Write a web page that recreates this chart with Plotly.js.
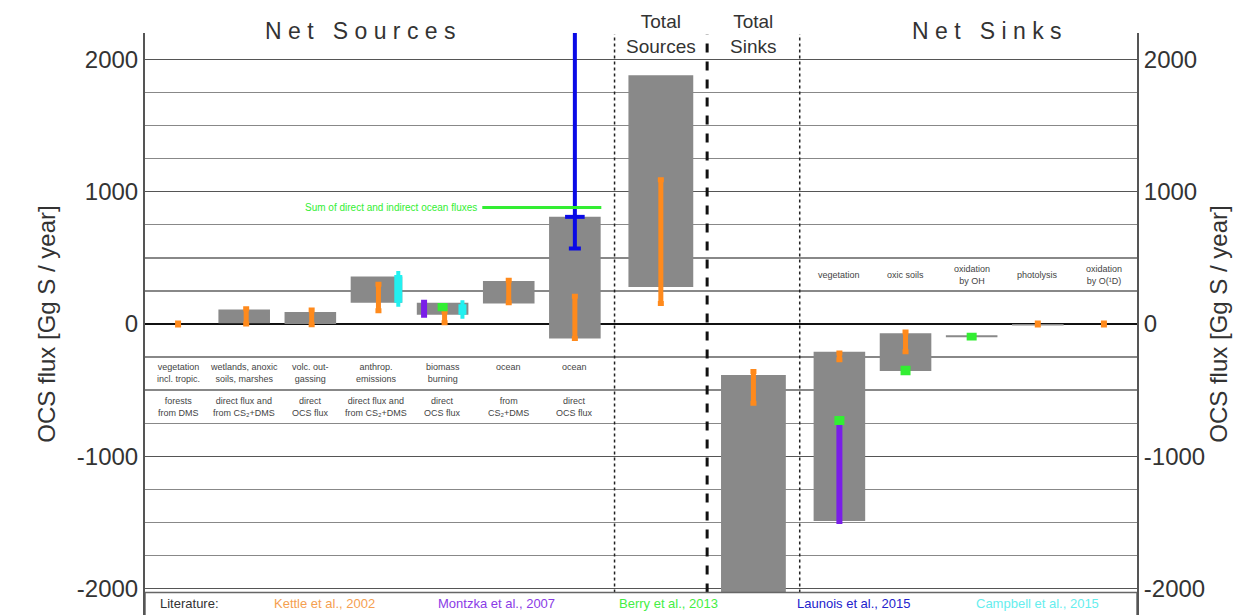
<!DOCTYPE html>
<html>
<head>
<meta charset="utf-8">
<script src="https://cdn.plot.ly/plotly-3.0.1.min.js"></script>
<style>html,body{margin:0;padding:0;background:#fff;}#chart{width:1242px;height:615px;}</style>
</head>
<body>
<div id="chart"></div>
<script>
// ---- data ----
const barPos   = [2, 3, 4, 5, 6, 7, 8.3, 9.7, 11, 12, 13, 14];
const barLow   = [5, 0, 160, 70, 155, -110, 280, -2300, -1490, -355, -100, -12];
const barHigh  = [110, 90, 360, 160, 325, 810, 1880, -385, -210, -70, -85, 0];

const kettlePos  = [1, 2.03, 3.02, 4.03, 5.03, 6.0, 7.0, 8.3, 9.7, 11, 12, 14, 15];
const kettleLow  = [-8, 0, -5, 100, 10, 160, -110, 155, -600, -270, -210, -8, -8];
const kettleHigh = [8, 115, 105, 300, 95, 330, 210, 1090, -360, -220, -60, 8, 8];

const montzkaPos  = [4.72, 11];
const montzkaLow  = [70, -1490];
const montzkaHigh = [160, -740];

const berryPos  = [5.0, 11, 12, 13];
const berryLow  = [115, -745, -368, -105];
const berryHigh = [140, -715, -335, -85];

const launoisPos  = [7];
const launoisLow  = [570];
const launoisHigh = [2400];
const launoisMid  = [810];

const campbellPos  = [4.33, 5.3];
const campbellLow  = [160, 70];
const campbellHigh = [370, 150];

const oceanSum = 880;
const oceanSumSpan = [5.6, 7.4];

const sourceLabels1 = ["vegetation<br>incl. tropic.", "wetlands, anoxic<br>soils, marshes", "volc. out-<br>gassing", "anthrop.<br>emissions", "biomass<br>burning", "ocean<br> ", "ocean<br> "];
const sourceLabels2 = ["forests<br>from DMS", "direct flux and<br>from CS₂+DMS", "direct<br>OCS flux", "direct flux and<br>from CS₂+DMS", "direct<br>OCS flux", "from<br>CS₂+DMS", "direct<br>OCS flux"];
const sinkLabels = ["vegetation", "oxic soils", "oxidation<br>by OH", "photolysis", "oxidation<br>by O(¹D)"];
const literature = ["Kettle et al., 2002", "Montzka et al., 2007", "Berry et al., 2013", "Launois et al., 2015", "Campbell et al., 2015"];
const litColors = ["#f5a050", "#8a3be6", "#44ee44", "#2222cc", "#66eeee"];

// ---- styles ----
const FONT = "Liberation Sans, Arial, sans-serif";
const ORANGE = "#ff8a1c", PURPLE = "#7a1ee8", GREEN = "#33ee33", BLUE = "#0a0ae6", CYAN = "#22f0f0", GRAY = "#898989";

function rangeTrace(pos, lo, hi, color, thick, cap) {
  return {
    type: "scatter", mode: "markers", x: pos, y: lo,
    marker: {size: 0.1, color: color},
    error_y: {type: "data", symmetric: false, array: hi.map((h, i) => h - lo[i]), arrayminus: lo.map(() => 0),
              color: color, thickness: thick, width: cap},
    hoverinfo: "skip", showlegend: false
  };
}

const traces = [];
traces.push({
  type: "bar", x: barPos, base: barLow, y: barHigh.map((h, i) => h - barLow[i]),
  width: barPos.map(p => (p === 8.3 || p === 9.7) ? 0.98 : 0.78),
  marker: {color: GRAY, line: {width: 0}}, showlegend: false, hoverinfo: "skip"
});
traces.push(rangeTrace(kettlePos, kettleLow, kettleHigh, ORANGE, 5, 3));
traces.push(rangeTrace(montzkaPos, montzkaLow, montzkaHigh, PURPLE, 6, 3));
traces.push(rangeTrace(campbellPos, campbellLow, campbellHigh, CYAN, 8, 2));
traces.push(rangeTrace(berryPos, berryLow, berryHigh, GREEN, 5, 5));
traces.push(rangeTrace(launoisPos, launoisLow, launoisHigh, BLUE, 4, 6));
traces.push({type: "scatter", mode: "markers", x: launoisPos, y: launoisMid,
  marker: {symbol: "line-ew", size: 14, line: {color: BLUE, width: 4}}, showlegend: false, hoverinfo: "skip"});
traces.push({type: "scatter", mode: "lines", x: oceanSumSpan, y: [oceanSum, oceanSum],
  line: {color: GREEN, width: 3}, showlegend: false, hoverinfo: "skip"});
traces.push({type: "scatter", mode: "markers", x: [1], y: [0], yaxis: "y2", marker: {opacity: 0}, showlegend: false, hoverinfo: "skip"});

const annotations = [];
const sourcePos = [1, 2, 3, 4, 5, 6, 7];
sourceLabels1.forEach((t, i) => annotations.push({x: sourcePos[i], y: -374, text: t, showarrow: false,
  font: {family: FONT, size: 9, color: "#444"}, xanchor: "center", yanchor: "middle"}));
sourceLabels2.forEach((t, i) => annotations.push({x: sourcePos[i], y: -624, text: t, showarrow: false,
  font: {family: FONT, size: 9, color: "#444"}, xanchor: "center", yanchor: "middle"}));
const sinkPos = [11, 12, 13, 14, 15];
sinkLabels.forEach((t, i) => annotations.push({x: sinkPos[i], y: 370, text: t, showarrow: false,
  font: {family: FONT, size: 9, color: "#444"}, xanchor: "center", yanchor: "middle"}));

annotations.push({x: 3.75, xref: "x", y: 1.004, yref: "paper", text: "N e t   S o u r c e s", showarrow: false,
  font: {family: FONT, size: 23, color: "#333"}, xanchor: "center", yanchor: "middle"});
annotations.push({x: 13.23, xref: "x", y: 1.004, yref: "paper", text: "N e t   S i n k s", showarrow: false,
  font: {family: FONT, size: 23, color: "#333"}, xanchor: "center", yanchor: "middle"});
annotations.push({x: 8.3, xref: "x", y: 0.998, yref: "paper", text: "Total<br>Sources", showarrow: false,
  font: {family: FONT, size: 19, color: "#333"}, xanchor: "center", yanchor: "middle"});
annotations.push({x: 9.7, xref: "x", y: 0.998, yref: "paper", text: "Total<br>Sinks", showarrow: false,
  font: {family: FONT, size: 19, color: "#333"}, xanchor: "center", yanchor: "middle"});
annotations.push({x: 5.55, y: oceanSum, text: "Sum of direct and indirect ocean fluxes", showarrow: false,
  font: {family: FONT, size: 10, color: GREEN}, xanchor: "right", yanchor: "middle"});

annotations.push({x: 0.7, y: -2110, text: "Literature:", showarrow: false,
  font: {family: FONT, size: 13, color: "#333"}, xanchor: "left", yanchor: "middle"});
const litPos = [3.21, 5.81, 8.42, 11.22, 13.99];
literature.forEach((t, i) => annotations.push({x: litPos[i], y: -2110, text: t, showarrow: false,
  font: {family: FONT, size: 13, color: litColors[i]}, xanchor: "center", yanchor: "middle"}));

const shapes = [
  {type: "line", x0: 7.6, x1: 7.6, y0: -2030, y1: 2190, line: {color: "#222", width: 1.5, dash: "dot"}, layer: "above"},
  {type: "line", x0: 9.0, x1: 9.0, y0: -2030, y1: 2190, line: {color: "#111", width: 3, dash: "dash"}, layer: "above"},
  {type: "line", x0: 10.4, x1: 10.4, y0: -2030, y1: 2190, line: {color: "#222", width: 1.5, dash: "dot"}, layer: "above"},
  {type: "rect", x0: 0.5, x1: 15.5, y0: -2030, y1: -2400, fillcolor: "#fff", line: {color: "#666", width: 1.5}, layer: "above"}
];

const yax = {
  range: [-2200, 2200], tickvals: [-2000, -1000, 0, 1000, 2000], ticktext: ["-2000", "-1000", "0", "1000", "2000"],
  showgrid: true, gridcolor: "#555", gridwidth: 1.5,
  minor: {tickvals: [-1750,-1500,-1250,-750,-500,-250,250,500,750,1250,1500,1750], showgrid: true, gridcolor: "#888", gridwidth: 1.3},
  zeroline: true, zerolinecolor: "#111", zerolinewidth: 2.5,
  showline: true, linecolor: "#555", linewidth: 2, ticks: "", ticklen: 0,
  tickfont: {family: FONT, size: 24, color: "#333"},
  title: {text: "OCS flux [Gg S / year]", font: {family: FONT, size: 24, color: "#333"}, standoff: 14},
  fixedrange: true
};
const yax2 = Object.assign({}, yax, {overlaying: "y", side: "right", showgrid: false, zeroline: false, minor: {showgrid: false},
  title: {text: "OCS flux [Gg S / year]", font: {family: FONT, size: 24, color: "#333"}, standoff: 4}});

const layout = {
  width: 1242, height: 615,
  margin: {l: 145, r: 105, t: 33, b: 0},
  paper_bgcolor: "#fff", plot_bgcolor: "#fff",
  barmode: "overlay",
  xaxis: {range: [0.5, 15.5], visible: false, showgrid: false, zeroline: false, fixedrange: true},
  yaxis: yax, yaxis2: yax2,
  annotations: annotations, shapes: shapes, showlegend: false
};

Plotly.newPlot("chart", traces, layout, {displayModeBar: false, staticPlot: true});
</script>
</body>
</html>
